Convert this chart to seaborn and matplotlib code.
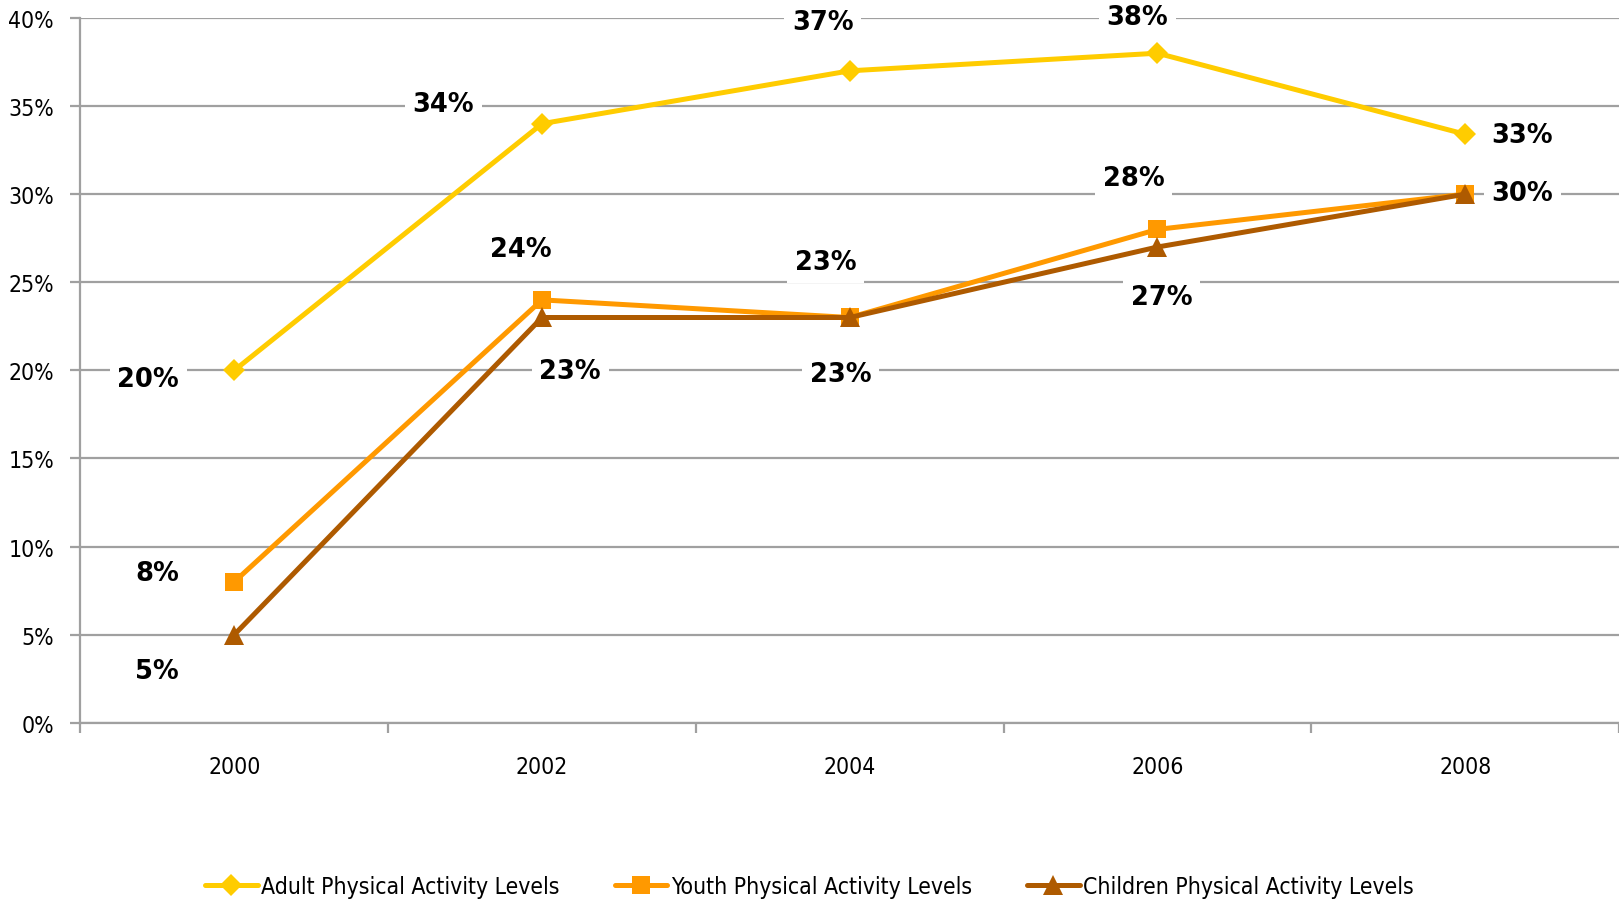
import matplotlib
matplotlib.use("Agg")
import matplotlib.pyplot as plt
from matplotlib.ticker import PercentFormatter, FixedLocator
import pandas as pd
import seaborn as sns

years = ["2000", "2002", "2004", "2006", "2008"]
adult = [20, 34, 37, 38, 33.4]
youth = [8, 24, 23, 28, 30]
children = [5, 23, 23, 27, 30]
series_names = ["Adult Physical Activity Levels",
                "Youth Physical Activity Levels",
                "Children Physical Activity Levels"]

colors = ["#FFCC00", "#FF9900", "#AE5A00"]
markers = ["D", "s", "^"]
marker_sizes = [11.5, 13.5, 14]

# label offsets in pixels (dx right, dy down) relative to each point
label_offsets = [
    [(-86, 9), (-99, -20), (-27, -49), (-20, -36), (57, 1)],
    [(-77, -9), (-21, -51), (-24, -55), (-24, -51), (57, -1)],
    [(-77, 36), (28, 54), (-9, 57), (4, 50), (57, -1)],
]

sns.set_theme(style="white")
plt.rcParams["font.family"] = ["DejaVu Sans"]
plt.rcParams["font.stretch"] = "condensed"
tick_font = {"family": "DejaVu Sans", "stretch": "condensed", "size": 16.5}

fig = plt.figure(figsize=(16.19, 9.03), dpi=100)
ax = fig.add_axes([0.0497, 0.1985, 0.9503, 0.7805])

grid_color = "#A0A0A0"
for yv in range(0, 41, 5):
    ax.axhline(yv, color=grid_color, lw=1.6, zorder=1)

for name, vals, col, mk, ms in zip(series_names, [adult, youth, children],
                                   colors, markers, marker_sizes):
    d = pd.DataFrame({"Year": years, "Value": vals})
    sns.lineplot(data=d, x="Year", y="Value", color=col, marker=mk,
                 markersize=ms, markeredgewidth=0, lw=3.6, sort=False,
                 label=name, ax=ax, zorder=4)

# data labels
for vals, offs in zip([adult, youth, children], label_offsets):
    for i, (v, (dx, dy)) in enumerate(zip(vals, offs)):
        ax.annotate(f"{round(v):d}%", xy=(i, v), xytext=(dx, -dy),
                    textcoords="offset pixels", ha="center", va="center",
                    fontsize=18.5, fontweight="bold", family="DejaVu Sans",
                    fontstretch="normal", color="black", zorder=3,
                    bbox=dict(boxstyle="square,pad=0.3", fc="white", ec="none"))

ax.set_xlim(-0.5, 4.5)
ax.set_ylim(0, 40)
ax.yaxis.set_major_locator(FixedLocator(range(0, 41, 5)))
ax.yaxis.set_major_formatter(PercentFormatter(decimals=0))
ax.xaxis.set_minor_locator(FixedLocator([-0.5, 0.5, 1.5, 2.5, 3.5, 4.5]))
ax.tick_params(axis="y", which="major", length=7, width=1.6, color=grid_color,
               pad=12, left=True)
ax.tick_params(axis="x", which="major", length=0, pad=23)
ax.tick_params(axis="x", which="minor", length=7, width=1.6, color=grid_color,
               bottom=True)
for lab in ax.get_xticklabels() + ax.get_yticklabels():
    lab.set_fontproperties(tick_font)
    lab.set_color("black")

ax.set_xlabel("")
ax.set_ylabel("")
for s in ["top", "right"]:
    ax.spines[s].set_visible(False)
for s in ["left", "bottom"]:
    ax.spines[s].set_color(grid_color)
    ax.spines[s].set_linewidth(1.6)

handles, labels = ax.get_legend_handles_labels()
ax.get_legend().remove()
leg = fig.legend(handles, labels, loc="center", bbox_to_anchor=(0.5, 0.017),
                 ncol=3, frameon=False, handlelength=2.3, handletextpad=0.15,
                 columnspacing=2.4, prop=tick_font)
for t in leg.get_texts():
    t.set_color("black")

fig.savefig("out.png", dpi=100)
